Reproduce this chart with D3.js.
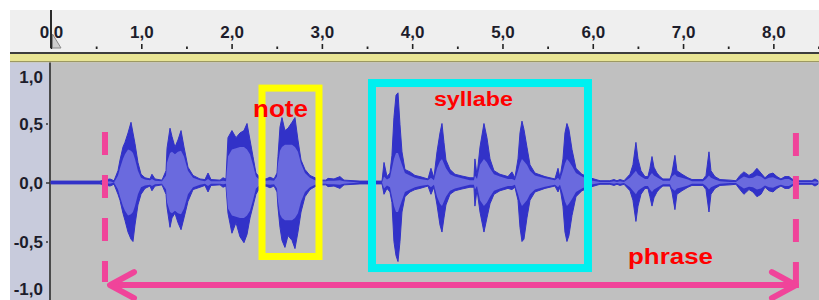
<!DOCTYPE html>
<html>
<head>
<meta charset="utf-8">
<script src="https://cdn.jsdelivr.net/npm/d3@7"></script>
<style>
  html, body { margin: 0; padding: 0; background: #ffffff; }
  svg { display: block; }
</style>
</head>
<body>
<svg id="chart" width="819" height="300"></svg>
<script>
// time ruler (seconds)
var timeTicks = [0, 1, 2, 3, 4, 5, 6, 7, 8];
var timeLabels = ["0,0", "1,0", "2,0", "3,0", "4,0", "5,0", "6,0", "7,0", "8,0"];
var halfTicks = [0.5, 1.5, 2.5, 3.5, 4.5, 5.5, 6.5, 7.5, 8.5];

// amplitude ruler
var ampTicks = [1, 0.5, 0, -0.5, -1];
var ampLabels = ["1,0", "0,5", "0,0", "-0,5", "-1,0"];

// waveform envelope: time (s), peak max, peak min, rms
var waveTime = [0, 0.543, 0.653, 0.698, 0.742, 0.764, 0.797, 0.819, 0.853, 0.886, 0.908, 0.930, 0.963, 0.997, 1.041, 1.096, 1.118, 1.152, 1.229,
  1.274, 1.285, 1.318, 1.340, 1.373, 1.406, 1.440, 1.473, 1.517, 1.573, 1.650, 1.705, 1.739, 1.772, 1.872, 1.905, 1.938,
  1.960, 2.004, 2.049, 2.093, 2.137, 2.171, 2.204, 2.237, 2.270, 2.315, 2.381, 2.425, 2.470,
  2.503, 2.514, 2.536, 2.558, 2.591, 2.625, 2.669, 2.702, 2.735, 2.769, 2.813, 2.868, 2.924, 2.979, 3.045, 3.068, 3.134, 3.200, 3.245, 3.422, 3.666,
  3.688, 3.721, 3.754, 3.776, 3.798, 3.821, 3.843, 3.865, 3.887, 3.920, 3.976, 4.031, 4.086, 4.175,
  4.208, 4.241, 4.275, 4.308, 4.330, 4.352, 4.374, 4.419, 4.474, 4.551, 4.640,
  4.684, 4.695, 4.718, 4.751, 4.795, 4.828, 4.862, 4.906, 4.972, 5.061,
  5.105, 5.138, 5.172, 5.194, 5.216, 5.238, 5.271, 5.305, 5.360, 5.471, 5.581,
  5.615, 5.637, 5.670, 5.692, 5.714, 5.736, 5.770, 5.814, 5.880, 5.969,
  6.080, 6.190, 6.235, 6.268, 6.301, 6.346, 6.412, 6.445, 6.478, 6.501, 6.534, 6.578,
  6.611, 6.633, 6.656, 6.678, 6.711, 6.744, 6.777, 6.855, 6.877, 6.910, 6.932, 6.988, 7.054, 7.099,
  7.220, 7.254, 7.287, 7.309, 7.353, 7.409, 7.519, 7.586, 7.630, 7.674, 7.730, 7.774, 7.818, 7.863, 7.907,
  7.951, 7.996, 8.040, 8.084, 8.128, 8.173, 8.206, 8.250, 8.427, 8.461, 8.494];
var waveMax = [0.012, 0.012, 0.03, 0.015, 0.1, 0.19, 0.3, 0.34, 0.42, 0.51, 0.42, 0.33, 0.17, 0.07, 0.04, 0.03, 0.07, 0.03, 0.02,
  0.1, 0.29, 0.46, 0.39, 0.3, 0.36, 0.44, 0.3, 0.13, 0.06, 0.03, 0.025, 0.08, 0.025, 0.02, 0.04, 0.03,
  0.38, 0.44, 0.38, 0.42, 0.44, 0.5, 0.36, 0.22, 0.08, 0.04, 0.03, 0.045, 0.03,
  0.08, 0.22, 0.47, 0.55, 0.44, 0.46, 0.51, 0.55, 0.36, 0.19, 0.11, 0.06, 0.04, 0.02, 0.02, 0.035, 0.03, 0.05, 0.02, 0.012, 0.012,
  0.17, 0.05, 0.08, 0.23, 0.55, 0.74, 0.76, 0.49, 0.26, 0.11, 0.09, 0.06, 0.05, 0.03,
  0.12, 0.04, 0.26, 0.42, 0.5, 0.34, 0.19, 0.11, 0.07, 0.055, 0.04,
  0.04, 0.2, 0.06, 0.3, 0.5, 0.38, 0.2, 0.1, 0.07, 0.05,
  0.09, 0.04, 0.2, 0.42, 0.52, 0.45, 0.3, 0.15, 0.08, 0.05, 0.03,
  0.12, 0.04, 0.2, 0.42, 0.5, 0.45, 0.28, 0.12, 0.07, 0.04,
  0.015, 0.015, 0.025, 0.015, 0.025, 0.015, 0.07, 0.15, 0.34, 0.2, 0.1, 0.05,
  0.05, 0.12, 0.22, 0.13, 0.08, 0.05, 0.03, 0.03, 0.08, 0.23, 0.1, 0.07, 0.04, 0.025,
  0.025, 0.06, 0.26, 0.1, 0.05, 0.025, 0.02, 0.015, 0.06, 0.09, 0.06, 0.08, 0.12, 0.08, 0.04,
  0.07, 0.08, 0.05, 0.03, 0.05, 0.05, 0.03, 0.015, 0.015, 0.03, 0.015];
var waveMin = [-0.012, -0.012, -0.03, -0.015, -0.1, -0.15, -0.26, -0.32, -0.42, -0.48, -0.5, -0.36, -0.19, -0.1, -0.05, -0.03, -0.07, -0.03, -0.02,
  -0.1, -0.21, -0.38, -0.3, -0.26, -0.34, -0.4, -0.3, -0.16, -0.06, -0.04, -0.025, -0.08, -0.025, -0.02, -0.04, -0.03,
  -0.26, -0.43, -0.34, -0.46, -0.51, -0.44, -0.3, -0.2, -0.1, -0.04, -0.03, -0.045, -0.03,
  -0.08, -0.21, -0.38, -0.49, -0.55, -0.45, -0.49, -0.56, -0.42, -0.25, -0.12, -0.06, -0.035, -0.02, -0.02, -0.035, -0.03, -0.05, -0.02, -0.012, -0.012,
  -0.1, -0.05, -0.08, -0.17, -0.5, -0.62, -0.67, -0.5, -0.25, -0.12, -0.08, -0.06, -0.05, -0.03,
  -0.1, -0.04, -0.19, -0.36, -0.42, -0.3, -0.19, -0.1, -0.07, -0.055, -0.04,
  -0.04, -0.2, -0.06, -0.25, -0.42, -0.3, -0.18, -0.1, -0.07, -0.05,
  -0.06, -0.04, -0.15, -0.38, -0.5, -0.48, -0.3, -0.15, -0.08, -0.05, -0.03,
  -0.08, -0.04, -0.2, -0.42, -0.5, -0.45, -0.28, -0.12, -0.07, -0.04,
  -0.015, -0.015, -0.025, -0.015, -0.025, -0.015, -0.07, -0.15, -0.33, -0.2, -0.1, -0.05,
  -0.05, -0.12, -0.2, -0.13, -0.08, -0.05, -0.03, -0.03, -0.08, -0.23, -0.1, -0.07, -0.04, -0.025,
  -0.025, -0.06, -0.25, -0.1, -0.05, -0.025, -0.02, -0.015, -0.06, -0.1, -0.06, -0.08, -0.12, -0.1, -0.04,
  -0.07, -0.08, -0.05, -0.03, -0.05, -0.05, -0.03, -0.015, -0.015, -0.03, -0.015];
var waveRms = [0, 0, 0.01, 0, 0.06, 0.12, 0.2, 0.24, 0.28, 0.27, 0.25, 0.2, 0.1, 0.04, 0.025, 0.02, 0.03, 0.015, 0.01,
  0.06, 0.17, 0.25, 0.26, 0.24, 0.26, 0.27, 0.22, 0.1, 0.04, 0.02, 0.01, 0.03, 0.01, 0.01, 0.015, 0.01,
  0.22, 0.28, 0.29, 0.3, 0.3, 0.28, 0.24, 0.15, 0.05, 0.02, 0.015, 0.02, 0.015,
  0.05, 0.16, 0.27, 0.3, 0.32, 0.32, 0.32, 0.3, 0.26, 0.16, 0.08, 0.04, 0.02, 0.01, 0.01, 0.015, 0.015, 0.02, 0.01, 0, 0,
  0.05, 0.025, 0.04, 0.12, 0.2, 0.25, 0.25, 0.2, 0.15, 0.08, 0.06, 0.04, 0.03, 0.02,
  0.04, 0.02, 0.12, 0.18, 0.2, 0.16, 0.12, 0.07, 0.05, 0.035, 0.02,
  0.02, 0.06, 0.03, 0.15, 0.2, 0.17, 0.12, 0.07, 0.05, 0.03,
  0.03, 0.02, 0.1, 0.16, 0.2, 0.18, 0.15, 0.1, 0.06, 0.035, 0.02,
  0.04, 0.02, 0.1, 0.16, 0.2, 0.18, 0.14, 0.08, 0.05, 0.02,
  0.005, 0.005, 0.01, 0.005, 0.01, 0.005, 0.04, 0.07, 0.1, 0.07, 0.05, 0.03,
  0.03, 0.06, 0.08, 0.06, 0.045, 0.03, 0.015, 0.015, 0.05, 0.07, 0.05, 0.04, 0.025, 0.01,
  0.01, 0.03, 0.06, 0.04, 0.025, 0.01, 0.005, 0.005, 0.03, 0.05, 0.035, 0.04, 0.06, 0.05, 0.025,
  0.04, 0.045, 0.03, 0.02, 0.03, 0.03, 0.015, 0.005, 0.005, 0.01, 0.005];

// annotations (seconds / amplitude)
var boxNames = ["note", "syllabe"];
var boxStart = [2.337, 3.555];
var boxEnd = [2.968, 5.947];
var boxTop = [0.80, 0.843];
var boxBottom = [-0.627, -0.725];
var boxLabelTime = [2.237, 4.241];
var boxLabelAmp = [0.553, 0.648];
var phraseName = "phrase";
var phraseStart = 0.598;
var phraseEnd = 8.25;
var phraseLevel = -0.869;
var phraseLabelTime = 6.39;
var phraseLabelAmp = -0.69;

var svg = d3.select("#chart");
var W = 819, H = 300;

var x = d3.scaleLinear().domain([0, 8.5]).range([51, 818.5]);
var y = d3.scaleLinear().domain([-1, 1]).range([300.5, 64.5]);

// ruler background + strips
svg.append("rect").attr("x", 10).attr("y", 10).attr("width", W - 10).attr("height", 42).attr("fill", "#efefef");
svg.append("rect").attr("x", 10).attr("y", 52).attr("width", W - 10).attr("height", 2).attr("fill", "#3c3c3c");
svg.append("rect").attr("x", 10).attr("y", 54).attr("width", W - 10).attr("height", 7).attr("fill", "#e8e494");
svg.append("rect").attr("x", 10).attr("y", 61).attr("width", W - 10).attr("height", 1.5).attr("fill", "#9c9862");

// vertical ruler panel + wave background
svg.append("rect").attr("x", 10).attr("y", 62.5).attr("width", 40).attr("height", H - 62.5).attr("fill", "#c8cbdc");
svg.append("rect").attr("x", 51).attr("y", 62.5).attr("width", W - 51).attr("height", H - 62.5).attr("fill", "#c0c0c0");
svg.append("line").attr("x1", 50).attr("x2", 50).attr("y1", 62.5).attr("y2", H)
  .attr("stroke", "#4a4a4a").attr("stroke-width", 2);

// time axis
var tAxis = svg.append("g").attr("transform", "translate(0,49)")
  .call(d3.axisTop(x).tickValues(timeTicks).tickSize(5).tickPadding(6)
    .tickFormat(function(d, i) { return timeLabels[i]; }));
tAxis.select(".domain").remove();
tAxis.selectAll("line").attr("stroke", "#222").attr("stroke-width", 1.6);
tAxis.selectAll("text").attr("font-family", "'Liberation Sans', Arial, sans-serif")
  .attr("font-size", 17).attr("font-weight", "bold").attr("fill", "#1d1d2b");

var hAxis = svg.append("g").attr("transform", "translate(0,49)")
  .call(d3.axisTop(x).tickValues(halfTicks).tickSize(2.5).tickFormat(""));
hAxis.select(".domain").remove();
hAxis.selectAll("line").attr("stroke", "#222").attr("stroke-width", 1.8);

// play cursor at 0
svg.append("line").attr("x1", x(0)).attr("x2", x(0)).attr("y1", 10).attr("y2", 48)
  .attr("stroke", "#2a2a2a").attr("stroke-width", 2);
svg.append("path")
  .attr("d", "M" + (x(0) + 1.5) + ",34 L" + (x(0) + 1.5) + ",48 L" + (x(0) + 10) + ",48 Z")
  .attr("fill", "#cfcfcf").attr("stroke", "#8a8a8a").attr("stroke-width", 1);

// amplitude axis
var aAxis = svg.append("g").attr("transform", "translate(48,0)")
  .call(d3.axisLeft(y).tickValues([0.5, 0, -0.5]).tickSize(2).tickPadding(3).tickFormat(""));
aAxis.select(".domain").remove();
aAxis.selectAll("line").attr("stroke", "#333").attr("stroke-width", 1.5)
  .attr("x1", function(d) { return d === 0 ? 2 : 0; });

svg.append("g").selectAll("text").data(ampTicks).join("text")
  .attr("x", 43)
  .attr("y", function(d) { return y(d) + (d === 1 ? 12 : d === -1 ? -12 : 0); })
  .attr("dy", "0.36em")
  .attr("text-anchor", "end")
  .attr("font-family", "'Liberation Sans', Arial, sans-serif")
  .attr("font-size", 17).attr("font-weight", "bold").attr("fill", "#1d1d2b")
  .text(function(d, i) { return ampLabels[i]; });

// waveform
var wave = waveTime.map(function(t, i) {
  return { t: t, max: waveMax[i], min: waveMin[i], rms: waveRms[i] };
});
var outer = d3.area().x(function(d) { return x(d.t); })
  .y0(function(d) { return y(d.min); }).y1(function(d) { return y(d.max); });
var inner = d3.area().x(function(d) { return x(d.t); })
  .y0(function(d) { return y(-d.rms); }).y1(function(d) { return y(d.rms); });
svg.append("path").datum(wave).attr("d", outer).attr("fill", "#3232c8")
  .attr("stroke", "#3232c8").attr("stroke-width", 1);
svg.append("path").datum(wave).attr("d", inner).attr("fill", "#6a6ade");

// annotation boxes
var boxColors = ["#ffff00", "#00f0f0"];
var boxWidths = [7, 8];
boxNames.forEach(function(name, i) {
  svg.append("rect")
    .attr("x", x(boxStart[i])).attr("y", y(boxTop[i]))
    .attr("width", x(boxEnd[i]) - x(boxStart[i]))
    .attr("height", y(boxBottom[i]) - y(boxTop[i]))
    .attr("fill", "none").attr("stroke", boxColors[i]).attr("stroke-width", boxWidths[i]);
});

// phrase markers
var pink = "#f0449a";
svg.append("line").attr("x1", x(phraseStart)).attr("x2", x(phraseStart))
  .attr("y1", y(0.428)).attr("y2", y(-0.843))
  .attr("stroke", pink).attr("stroke-width", 6).attr("stroke-dasharray", "23,20");
svg.append("line").attr("x1", x(phraseEnd)).attr("x2", x(phraseEnd))
  .attr("y1", y(0.42)).attr("y2", y(phraseLevel) + 3)
  .attr("stroke", pink).attr("stroke-width", 6).attr("stroke-dasharray", "23,20,23,20,23,20,40");
svg.append("line").attr("x1", x(phraseStart) + 5).attr("x2", x(phraseEnd))
  .attr("y1", y(phraseLevel)).attr("y2", y(phraseLevel))
  .attr("stroke", pink).attr("stroke-width", 6);
var ay = y(phraseLevel), ax0 = x(phraseStart) + 5, ax1 = x(phraseEnd);
svg.append("path")
  .attr("d", "M" + (ax1 - 24) + "," + (ay - 13) + " L" + ax1 + "," + ay + " L" + (ax1 - 24) + "," + (ay + 13) +
    " M" + (ax0 + 24) + "," + (ay - 13) + " L" + ax0 + "," + ay + " L" + (ax0 + 24) + "," + (ay + 13))
  .attr("fill", "none").attr("stroke", pink).attr("stroke-width", 6)
  .attr("stroke-linecap", "round").attr("stroke-linejoin", "round");

// labels
var labelFont = "'Liberation Sans', Arial, sans-serif";
var labelSize = [24, 20];
var labelLen = [55, 79];
boxNames.forEach(function(name, i) {
  svg.append("text")
    .attr("x", x(boxLabelTime[i])).attr("y", y(boxLabelAmp[i]))
    .attr("font-family", labelFont).attr("font-weight", "bold")
    .attr("font-size", labelSize[i]).attr("fill", "#ff0000")
    .attr("textLength", labelLen[i]).attr("lengthAdjust", "spacingAndGlyphs")
    .text(name);
});
svg.append("text")
  .attr("x", x(phraseLabelTime)).attr("y", y(phraseLabelAmp))
  .attr("font-family", labelFont).attr("font-weight", "bold")
  .attr("font-size", 22).attr("fill", "#ff0000")
  .attr("textLength", 85).attr("lengthAdjust", "spacingAndGlyphs")
  .text(phraseName);
</script>
</body>
</html>
